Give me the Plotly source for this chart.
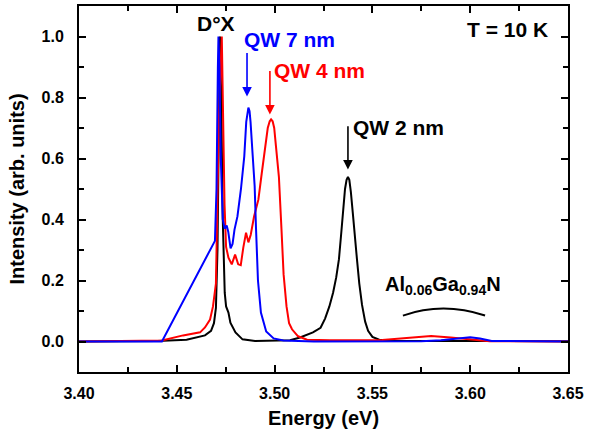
import plotly.graph_objects as go

# ---- data ----
energy_2nm = [3.400, 3.440, 3.455, 3.4603, 3.4644, 3.4675, 3.4690, 3.4700, 3.4708, 3.4715,
              3.4721, 3.4727, 3.4735, 3.4745, 3.4752, 3.4764, 3.4774, 3.4800, 3.4836, 3.490,
              3.500, 3.5079, 3.513, 3.5196, 3.5235, 3.5258, 3.5280, 3.5299, 3.5315, 3.5329,
              3.5340, 3.5350, 3.5360, 3.5368, 3.5375, 3.5382, 3.5390, 3.5400, 3.5410, 3.5421,
              3.5433, 3.5447, 3.5463, 3.5478, 3.5500, 3.5535, 3.5600, 3.650]
intensity_2nm = [0.0, 0.002, 0.006, 0.014, 0.02, 0.035, 0.06, 0.11, 0.3, 0.7,
                 1.0, 0.8, 0.4, 0.16, 0.115, 0.095, 0.062, 0.03, 0.007, 0.002,
                 0.002, 0.004, 0.013, 0.03, 0.045, 0.075, 0.115, 0.16, 0.21, 0.27,
                 0.35, 0.43, 0.50, 0.53, 0.54, 0.53, 0.49, 0.42, 0.34, 0.27,
                 0.19, 0.12, 0.065, 0.035, 0.015, 0.006, 0.002, 0.001]

energy_7nm = [3.400, 3.4424, 3.4695, 3.4703, 3.4710, 3.4713, 3.4718, 3.4725, 3.4735, 3.4745,
              3.4755, 3.4763, 3.4775, 3.4785, 3.4795, 3.4810, 3.4828, 3.4845, 3.4855, 3.4861,
              3.4866, 3.4872, 3.4877, 3.4888, 3.4898, 3.4905, 3.4915, 3.4930, 3.4957, 3.4995,
              3.5045, 3.520, 3.575, 3.585, 3.593, 3.600, 3.605, 3.611, 3.650]
intensity_7nm = [0.0, 0.0, 0.33, 0.5, 0.9, 1.0, 0.9, 0.6, 0.40, 0.37,
                 0.38, 0.36, 0.305, 0.32, 0.367, 0.41, 0.50, 0.607, 0.72, 0.755,
                 0.767, 0.755, 0.72, 0.61, 0.51, 0.37, 0.20, 0.095, 0.033, 0.01,
                 0.003, 0.0, 0.001, 0.004, 0.01, 0.014, 0.01, 0.002, 0.0]

energy_4nm = [3.400, 3.4424, 3.4532, 3.4619, 3.4644, 3.4670, 3.4685, 3.4700, 3.4706, 3.4716,
              3.4730, 3.4736, 3.4744, 3.4752, 3.4764, 3.4781, 3.4798, 3.4814, 3.4827, 3.4840,
              3.4854, 3.4866, 3.4878, 3.4895, 3.4917, 3.4934, 3.4951, 3.4965, 3.4975, 3.4982,
              3.4990, 3.4998, 3.5007, 3.5022, 3.5035, 3.5046, 3.5061, 3.5074, 3.5089, 3.5120,
              3.5166, 3.5283, 3.555, 3.565, 3.580, 3.590, 3.600, 3.610, 3.650]
intensity_4nm = [0.0, 0.003, 0.02, 0.03, 0.046, 0.072, 0.115, 0.19, 0.4, 0.75,
                 1.0, 0.75, 0.45, 0.31, 0.275, 0.253, 0.285, 0.253, 0.25, 0.308,
                 0.357, 0.325, 0.35, 0.41, 0.465, 0.55, 0.64, 0.70, 0.722, 0.728,
                 0.722, 0.70, 0.64, 0.54, 0.37, 0.22, 0.115, 0.06, 0.04, 0.017,
                 0.006, 0.004, 0.005, 0.01, 0.018, 0.013, 0.006, 0.001, 0.0]

x_ticks = [3.40, 3.45, 3.50, 3.55, 3.60, 3.65]
y_ticks = [0.0, 0.2, 0.4, 0.6, 0.8, 1.0]

FONT = "Liberation Sans, Arial, Helvetica, sans-serif"

fig = go.Figure()
fig.add_trace(go.Scatter(x=energy_2nm, y=intensity_2nm, mode="lines",
                         line=dict(color="black", width=2), showlegend=False))
fig.add_trace(go.Scatter(x=energy_4nm, y=intensity_4nm, mode="lines",
                         line=dict(color="#ff0000", width=2), showlegend=False))
fig.add_trace(go.Scatter(x=energy_7nm, y=intensity_7nm, mode="lines",
                         line=dict(color="#0000ff", width=2), showlegend=False))

def label(x, y, text, color, size=21, **kw):
    fig.add_annotation(x=x, y=y, xref="x", yref="y", text=text, showarrow=False,
                       font=dict(family=FONT, size=size, color=color, weight="bold"), **kw)

def arrow(x, y_tail, y_tip, color):
    fig.add_annotation(x=x, y=y_tip, ax=x, ay=y_tail, xref="x", yref="y",
                       axref="x", ayref="y", text="", showarrow=True,
                       arrowhead=2, arrowsize=1.2, arrowwidth=1.6, arrowcolor=color)

label(3.4700, 1.043, "D°X", "black")
label(3.5074, 0.990, "QW 7 nm", "#0000ff")
label(3.5230, 0.887, "QW 4 nm", "#ff0000")
label(3.5631, 0.702, "QW 2 nm", "black")
label(3.6193, 1.023, "T = 10 K", "black")
label(3.5554, 0.182, "Al<sub>0.06</sub>Ga<sub>0.94</sub>N", "black", size=20, xanchor="left")

arrow(3.4859, 0.951, 0.803, "#0000ff")
arrow(3.4976, 0.892, 0.744, "#ff0000")
arrow(3.5375, 0.711, 0.564, "black")

fig.add_shape(type="path", xref="x", yref="y",
              path="M 3.5656,0.085 Q 3.5861,0.131 3.6076,0.085",
              line=dict(color="black", width=2))

axis_common = dict(showline=True, linewidth=2, linecolor="black", mirror="ticks",
                   ticks="inside", ticklen=7, tickwidth=1.5, tickcolor="black",
                   showgrid=False, zeroline=False, automargin=False,
                   tickfont=dict(family=FONT, size=16, color="black", weight="bold"))

fig.update_xaxes(range=[3.40, 3.65], tickvals=x_ticks,
                 ticktext=[f"{v:.2f}" for v in x_ticks], ticklabelstandoff=6,
                 minor=dict(ticks="inside", ticklen=5, tickwidth=1.5, tickcolor="black",
                            dtick=0.025, tick0=3.40, showgrid=False),
                 title=dict(text="Energy (eV)", standoff=10,
                            font=dict(family=FONT, size=20, color="black", weight="bold")),
                 **axis_common)
fig.update_yaxes(range=[-0.1, 1.1], tickvals=y_ticks,
                 ticktext=[f"{v:.1f}" for v in y_ticks], ticklabelstandoff=10,
                 minor=dict(ticks="inside", ticklen=5, tickwidth=1.5, tickcolor="black",
                            dtick=0.1, tick0=0, showgrid=False),
                 title=dict(text="Intensity (arb. units)", standoff=12,
                            font=dict(family=FONT, size=20, color="black", weight="bold")),
                 **axis_common)

fig.update_layout(width=589, height=437, margin=dict(l=79, r=21, t=6, b=65),
                  plot_bgcolor="white", paper_bgcolor="white", showlegend=False)

fig.write_html("out.html", config={"displayModeBar": False},
               post_script="document.body.style.margin='0';document.body.style.overflow='hidden';")
